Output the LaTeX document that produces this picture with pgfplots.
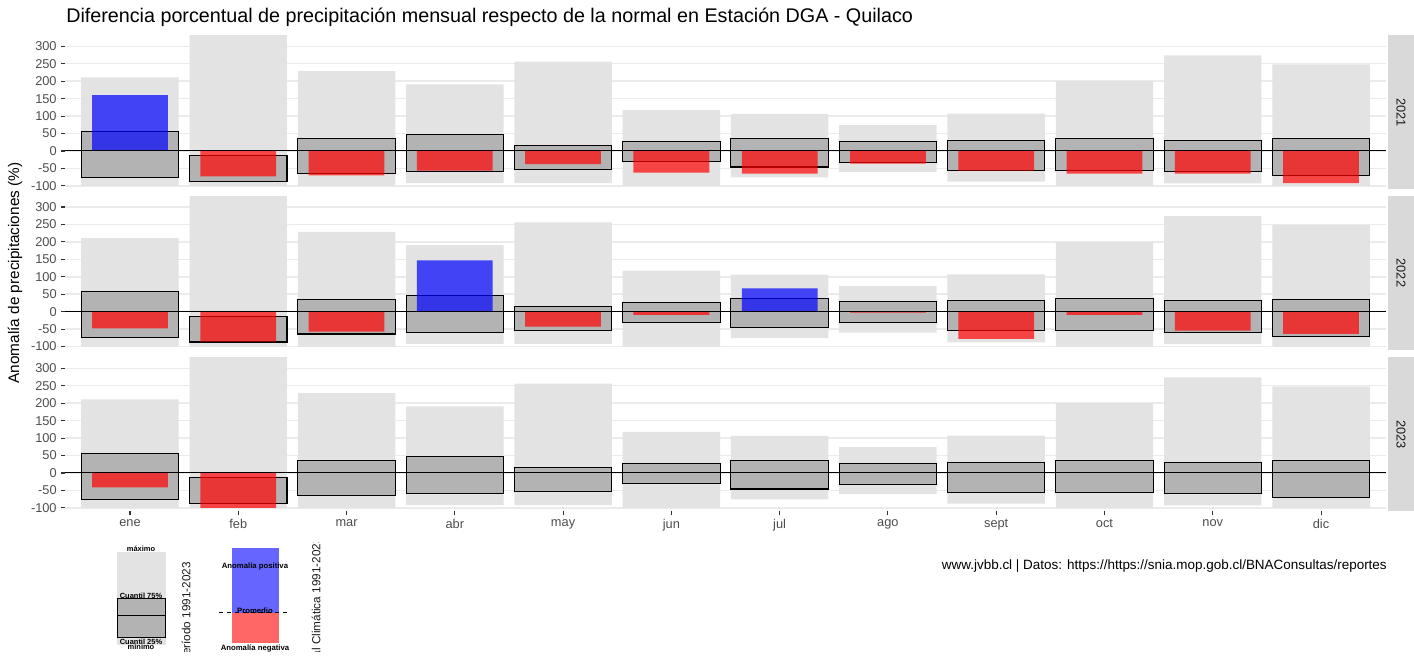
\documentclass[border=0pt]{standalone}
\usepackage{pgfplots}
\pgfplotsset{compat=1.18}
\usepackage{pgfplotstable}
\usepackage{fontspec}
\setmainfont{Liberation Sans}

\definecolor{lgrey}{HTML}{E3E3E3}
\definecolor{dgrey}{HTML}{B3B3B3}
\definecolor{gridc}{HTML}{EBEBEB}
\definecolor{stripc}{HTML}{D9D9D9}
\definecolor{ticktext}{HTML}{4D4D4D}
\definecolor{tickc}{HTML}{333333}
\definecolor{striptext}{HTML}{1A1A1A}

% climatology 1991-2023 (percent anomaly)
\pgfplotstableread{
x min max q25 q75
1 -100 211 -75 57
2 -100 345 -87 -13
3 -100 229 -64 36
4 -92 191 -60 46
5 -92 256 -53 15
6 -100 118 -30 27
7 -76 106 -46 37
8 -60 74 -32 28
9 -88 107 -55 31
10 -100 200 -55 37
11 -93 274 -60 31
12 -100 248 -71 36
}\clim

\pgfplotstableread{
x a
1 159
2 -73
3 -70
4 -56
5 -38
6 -62
7 -65
8 -36
9 -56
10 -65
11 -65
12 -92
}\yA

\pgfplotstableread{
x a
1 -48
2 -86
3 -57
4 147
5 -43
6 -9
7 67
8 -3
9 -78
10 -9
11 -54
12 -64
}\yB

\pgfplotstableread{
x a
1 -41
2 -100
}\yC

\pgfplotsset{
  base/.style={scale only axis, width=990.75pt, height=115.125pt,
    xmin=0.4, xmax=12.6, ymin=-109, ymax=331, anchor=south west},
  panel/.style={base, axis line style={draw=none},
    ytick={-100,-50,0,50,100,150,200,250,300},
    yticklabels={-100,-50,0,50,100,150,200,250,300},
    ymajorgrids, major grid style={gridc, line width=1.1pt},
    tick align=outside, major tick length=2.75pt,
    tick style={tickc, line width=0.8pt},
    tick label style={font=\fontsize{9.6}{11}\selectfont, text=ticktext},
    ytick pos=left, xtick pos=bottom, xtick=\empty,
    ybar stacked, stack negative=on previous, reverse stacked plots=false,
    bar width=0.9},
  over/.style={base, hide axis, ybar, bar width=0.7},
}

\newcommand{\climplots}{%
  \addplot[draw=none, fill=none, bar width=0.9] table[x=x, y=min] {\clim};
  \addplot[draw=none, fill=lgrey, bar width=0.9] table[x=x, y expr=\thisrow{max}-\thisrow{min}] {\clim};
  \addplot[draw=none, fill=none, bar width=0.9] table[x=x, y expr=\thisrow{q25}-\thisrow{max}] {\clim};
  \addplot[draw=black, fill=dgrey, line width=0.8pt, bar width=0.9] table[x=x, y expr=\thisrow{q75}-\thisrow{q25}] {\clim};
}
\newcommand{\anomplots}[1]{%
  \addplot[draw=none, fill=red, fill opacity=0.7, bar width=0.7, bar shift=0pt, restrict y to domain=-1000:0] table[x=x, y=a] {#1};
  \addplot[draw=none, fill=blue, fill opacity=0.7, bar width=0.7, bar shift=0pt, restrict y to domain=0:1000] table[x=x, y=a] {#1};
  \draw[black, line width=0.75pt] (axis cs:0.4,0) -- (axis cs:12.6,0);
}

\begin{document}
\begin{tikzpicture}
\useasboundingbox (0,0) rectangle (1060.5pt,492.75pt);

% panel 2021
\begin{axis}[panel, at={(48.75pt,351pt)}]
\climplots
\end{axis}
\begin{axis}[over, at={(48.75pt,351pt)}]
\anomplots{\yA}
\end{axis}

% panel 2022
\begin{axis}[panel, at={(48.75pt,230.475pt)}]
\climplots
\end{axis}
\begin{axis}[over, at={(48.75pt,230.475pt)}]
\anomplots{\yB}
\end{axis}

% panel 2023
\begin{axis}[panel, at={(48.75pt,109.5pt)},
  xtick={1,2,3,4,5,6,7,8,9,10,11,12},
  xticklabels={ene,feb,mar,abr,may,jun,jul,ago,sept,oct,nov,dic}]
\climplots
\end{axis}
\begin{axis}[over, at={(48.75pt,109.5pt)}]
\anomplots{\yC}
\end{axis}

\begin{scope}[x=0.75pt, y=-0.75pt, yshift=492.75pt]
  % strips
  \fill[stripc] (1388,35.5) rectangle (1414,189);
  \fill[stripc] (1388,196.2) rectangle (1414,349.7);
  \fill[stripc] (1388,357.5) rectangle (1414,511);
  \node[rotate=-90, inner sep=0, text=striptext, font=\fontsize{9.6}{11}\selectfont] at (1401,112.25) {2021};
  \node[rotate=-90, inner sep=0, text=striptext, font=\fontsize{9.6}{11}\selectfont] at (1401,272.95) {2022};
  \node[rotate=-90, inner sep=0, text=striptext, font=\fontsize{9.6}{11}\selectfont] at (1401,434.25) {2023};

  % title
  \node[anchor=west, inner sep=0, font=\fontsize{14.8}{17}\selectfont] at (66,17)
    {Diferencia porcentual de precipitación mensual respecto de la normal en Estación DGA - Quilaco};
  % y label
  \node[rotate=90, inner sep=0, font=\fontsize{11.5}{13}\selectfont] at (15,273)
    {Anomalía de precipitaciones (\%)};
  % caption
  \node[anchor=east, inner sep=0, font=\fontsize{10.1}{12}\selectfont] at (1387,566)
    {www.jvbb.cl | Datos: https://https://snia.mop.gob.cl/BNAConsultas/reportes};

  % legend 1
  \fill[lgrey] (117.3,551.7) rectangle (165.7,645);
  \draw[black, fill=dgrey, line width=0.7pt] (117.3,598.3) rectangle (165.7,637.3);
  \draw[black, line width=0.7pt] (117.3,615.3) -- (165.7,615.3);
  \node[inner sep=0, font=\fontsize{5.6}{6}\selectfont\bfseries] at (141,549) {máximo};
  \node[inner sep=0, font=\fontsize{5.6}{6}\selectfont\bfseries] at (141,596) {Cuantil 75\%};
  \node[inner sep=0, font=\fontsize{5.6}{6}\selectfont\bfseries] at (141,641.5) {Cuantil 25\%};
  \node[inner sep=0, font=\fontsize{5.6}{6}\selectfont\bfseries] at (141,646.5) {mínimo};
  \begin{scope}
    \clip (170,540) rectangle (200,652);
    \node[rotate=90, anchor=east, inner sep=0, text=striptext, font=\fontsize{8.8}{10}\selectfont] at (186,562) {Período 1991-2023};
  \end{scope}

  % legend 2
  \fill[blue!60!white] (232,548.3) rectangle (278.7,612.7);
  \fill[red!60!white] (232,612.7) rectangle (278.7,642.7);
  \draw[dashed, black, line width=0.6pt] (219,612.7) -- (290.7,612.7);
  \node[inner sep=0, font=\fontsize{5.8}{6}\selectfont\bfseries] at (255,566) {Anomalía positiva};
  \node[inner sep=0, font=\fontsize{5.8}{6}\selectfont\bfseries] at (255,611) {Promedio};
  \node[inner sep=0, font=\fontsize{5.8}{6}\selectfont\bfseries] at (255,648.5) {Anomalía negativa};
  \begin{scope}
    \clip (300,543) rectangle (330,652);
    \node[rotate=90, anchor=east, inner sep=0, text=striptext, font=\fontsize{8.8}{10}\selectfont] at (316,537) {Normal Climática 1991-2023};
  \end{scope}
\end{scope}
\end{tikzpicture}
\end{document}
